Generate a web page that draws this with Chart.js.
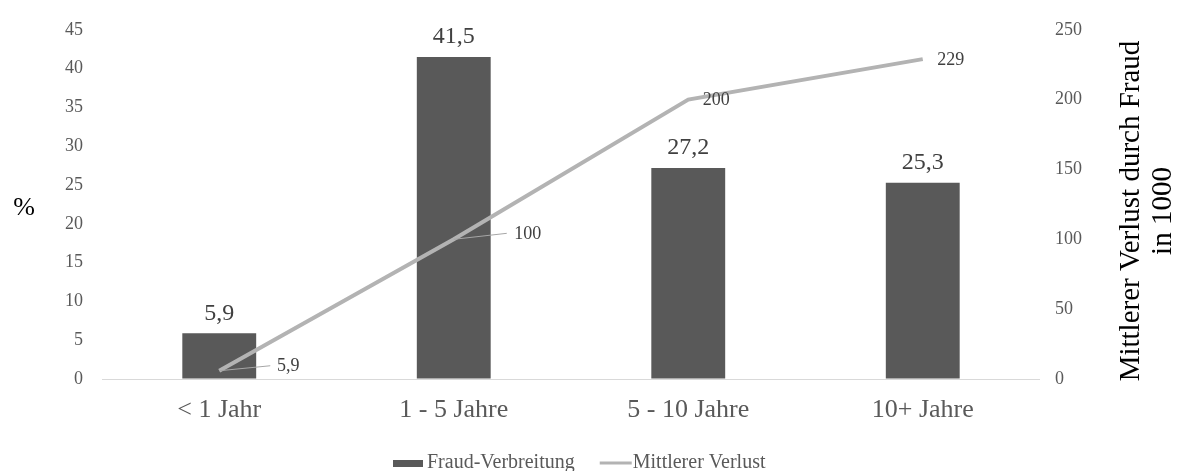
<!DOCTYPE html>
<html lang="de">
<head>
    <meta charset="UTF-8">
    <title>Fraud-Verbreitung und mittlerer Verlust</title>
    <script src="https://cdn.jsdelivr.net/npm/chart.js@4/dist/chart.umd.min.js"></script>
    <style>
        body {
            margin: 0;
            background-color: #ffffff;
        }
        #fraudChart {
            display: block;
        }
    </style>
</head>
<body>
    <canvas id="fraudChart" width="1178" height="471"></canvas>

    <script>
        // Unternehmensalter
        var categories = ['< 1 Jahr', '1 - 5 Jahre', '5 - 10 Jahre', '10+ Jahre'];
        // Fraud-Verbreitung in %
        var prevalence = [5.9, 41.5, 27.2, 25.3];
        // Mittlerer Verlust in 1000
        var medianLoss = [5.9, 100, 200, 229];
        var leftTicks = [0, 5, 10, 15, 20, 25, 30, 35, 40, 45];
        var rightTicks = [0, 50, 100, 150, 200, 250];

        var serif = '"Liberation Serif", "Times New Roman", serif';
        var barColor = '#595959';
        var lineColor = '#b3b3b3';

        function deNumber(v) {
            return String(v).replace('.', ',');
        }

        // where each line label sits relative to its point, plus the leader end (if any)
        var lineLabelPos = [
            { dx: 69, dy: -4, lx: 51, ly: -5 },
            { dx: 74, dy: -5, lx: 53, ly: -6 },
            { dx: 28, dy: 1, lx: 0, ly: 0 },
            { dx: 28, dy: 1, lx: 0, ly: 0 }
        ];

        var valueLabels = {
            id: 'valueLabels',
            afterDatasetsDraw: function(chart) {
                var ctx = chart.ctx;
                ctx.save();

                // bar values above each bar
                var barMeta = chart.getDatasetMeta(1);
                ctx.font = '24px ' + serif;
                ctx.fillStyle = '#404040';
                ctx.textAlign = 'center';
                ctx.textBaseline = 'middle';
                barMeta.data.forEach(function(bar, i) {
                    ctx.fillText(deNumber(prevalence[i]), bar.x, bar.y - 20);
                });

                // line values with short leader lines
                var lineMeta = chart.getDatasetMeta(0);
                ctx.font = '18px ' + serif;
                lineMeta.data.forEach(function(pt, i) {
                    var p = lineLabelPos[i];
                    if (p.lx) {
                        ctx.strokeStyle = '#a6a6a6';
                        ctx.lineWidth = 1;
                        ctx.beginPath();
                        ctx.moveTo(pt.x, pt.y);
                        ctx.lineTo(pt.x + p.lx, pt.y + p.ly);
                        ctx.stroke();
                    }
                    ctx.fillStyle = '#404040';
                    ctx.fillText(deNumber(medianLoss[i]), pt.x + p.dx, pt.y + p.dy);
                });
                ctx.restore();
            },
            afterDraw: function(chart) {
                var ctx = chart.ctx;
                ctx.save();

                // axis titles
                ctx.fillStyle = '#000000';
                ctx.textAlign = 'center';
                ctx.textBaseline = 'middle';
                ctx.font = '26px ' + serif;
                ctx.fillText('%', 24, 208);

                ctx.font = '29px ' + serif;
                ctx.translate(1147, 211);
                ctx.rotate(-Math.PI / 2);
                ctx.fillText('Mittlerer Verlust durch Fraud', 0, -16);
                ctx.fillText('in 1000', 0, 16);
                ctx.restore();

                // legend row
                ctx.save();
                ctx.font = '20px ' + serif;
                ctx.textBaseline = 'middle';
                ctx.textAlign = 'left';
                var x = 393, y = 463;
                ctx.fillStyle = barColor;
                ctx.fillRect(x, y - 3, 30, 7);
                x += 34;
                ctx.fillStyle = '#595959';
                ctx.fillText('Fraud-Verbreitung', x, y);
                x += ctx.measureText('Fraud-Verbreitung').width + 25;
                ctx.strokeStyle = lineColor;
                ctx.lineWidth = 3;
                ctx.beginPath();
                ctx.moveTo(x, y);
                ctx.lineTo(x + 32, y);
                ctx.stroke();
                ctx.fillText('Mittlerer Verlust', x + 33, y);
                ctx.restore();
            }
        };

        var ctx = document.getElementById('fraudChart').getContext('2d');
        var fraudChart = new Chart(ctx, {
            data: {
                labels: categories,
                datasets: [{
                    type: 'line',
                    label: 'Mittlerer Verlust',
                    data: medianLoss,
                    yAxisID: 'yLoss',
                    borderColor: lineColor,
                    borderWidth: 4,
                    pointRadius: 0,
                    tension: 0,
                    order: 0
                }, {
                    type: 'bar',
                    label: 'Fraud-Verbreitung',
                    data: prevalence,
                    yAxisID: 'yPct',
                    backgroundColor: barColor,
                    barPercentage: 0.315,
                    categoryPercentage: 1,
                    order: 1
                }]
            },
            options: {
                responsive: false,
                devicePixelRatio: 1,
                animation: false,
                layout: {
                    padding: { top: 24, left: 0, right: 0, bottom: 0 }
                },
                plugins: {
                    legend: { display: false },
                    tooltip: { enabled: false }
                },
                scales: {
                    x: {
                        offset: true,
                        grid: { display: false, drawTicks: false },
                        border: { display: false },
                        ticks: {
                            font: { family: serif, size: 26 },
                            color: '#595959',
                            padding: 16
                        },
                        afterFit: function(scale) { scale.height = 92; }
                    },
                    yPct: {
                        position: 'left',
                        min: 0,
                        max: 45,
                        afterBuildTicks: function(scale) {
                            scale.ticks = leftTicks.map(function(v) { return { value: v }; });
                        },
                        grid: {
                            drawTicks: false,
                            color: function(c) {
                                return c.tick && c.tick.value === 0 ? '#d9d9d9' : 'rgba(0,0,0,0)';
                            }
                        },
                        border: { display: false },
                        ticks: {
                            font: { family: serif, size: 18 },
                            color: '#595959',
                            padding: 19
                        },
                        afterFit: function(scale) { scale.width = 102; }
                    },
                    yLoss: {
                        position: 'right',
                        min: 0,
                        max: 250,
                        afterBuildTicks: function(scale) {
                            scale.ticks = rightTicks.map(function(v) { return { value: v }; });
                        },
                        grid: { display: false, drawTicks: false },
                        border: { display: false },
                        ticks: {
                            font: { family: serif, size: 18 },
                            color: '#595959',
                            padding: 15
                        },
                        afterFit: function(scale) { scale.width = 138; }
                    }
                }
            },
            plugins: [valueLabels]
        });
    </script>
</body>
</html>
